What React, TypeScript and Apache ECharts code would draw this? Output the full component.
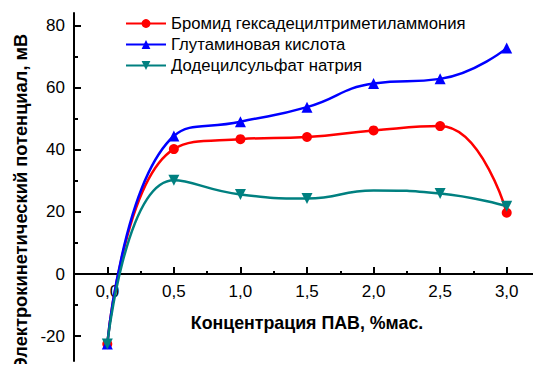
import React, { useEffect, useRef } from "react";
import * as echarts from "echarts";

const concentrations = [0, 0.5, 1.0, 1.5, 2.0, 2.5, 3.0];
const seriesNames = [
  "Бромид гексадецилтриметиламмония",
  "Глутаминовая кислота",
  "Додецилсульфат натрия",
];
const bromideValues = [-22.5, 40.2, 43.4, 44.1, 46.2, 47.6, 19.7];
const glutamicValues = [-22.5, 44.4, 49.0, 53.7, 61.3, 62.8, 72.7];
const sdsValues = [-22.5, 30.2, 25.6, 24.3, 26.9, 25.9, 21.8];
const sdsMarkerShown = [true, true, true, true, false, true, true];

const xMajorTicks = [0, 0.5, 1.0, 1.5, 2.0, 2.5, 3.0];
const xMinorTicks = [0.25, 0.75, 1.25, 1.75, 2.25, 2.75, 3.25];
const yMajorTicks = [-20, 0, 20, 40, 60, 80];
const yMinorTicks = [-10, 10, 30, 50, 70];

const xTitle = "Концентрация ПАВ, %мас.";
const yTitle = "Электрокинетический потенциал, мВ";

const FONT = "'Liberation Sans', Arial, sans-serif";

export default function App() {
  const ref = useRef<HTMLDivElement>(null);
  useEffect(() => {
    if (!ref.current) return;
    const chart = echarts.init(ref.current, undefined, { renderer: "svg" });
    const pair = (vals: number[]) => concentrations.map((x, i) => [x, vals[i]]);
    const X_MIN = -0.25;
    const X_MAX = 3.25;
    const Y_MIN = -28;
    const Y_MAX = 84;
    const H = 372;
    const top = 13;
    const bottom = 11;
    // pixel position of y = 0 inside the data grid
    const plotH = H - top - bottom;
    const zeroY = top + (plotH * Y_MAX) / (Y_MAX - Y_MIN);
    const baseGrid = { left: 74, right: 1, containLabel: false, outerBoundsMode: "none" };
    const black = () => ({ color: "#000", width: 2 });
    const hiddenX = (gridIndex: number) => ({
      type: "value", gridIndex, min: X_MIN, max: X_MAX, show: false,
    });
    const hiddenY = (gridIndex: number) => ({
      type: "value", gridIndex, min: 0, max: Y_MAX, show: false,
    });
    const yTitleGraphic = {
      id: "ytitle",
      type: "text",
      x: 20,
      y: 202,
      rotation: Math.PI / 2,
      style: {
        text: yTitle,
        fontFamily: FONT,
        fontSize: 18.3,
        fontWeight: "bold",
        fill: "#000",
        align: "center",
        verticalAlign: "middle",
      },
    };
    chart.setOption({
      animation: false,
      backgroundColor: "#ffffff",
      textStyle: { fontFamily: FONT },
      grid: [
        { ...baseGrid, top, bottom },
        { ...baseGrid, top, bottom: H - zeroY },
        { ...baseGrid, top, bottom: H - zeroY },
        { ...baseGrid, top, bottom },
      ],
      legend: {
        orient: "vertical",
        left: 125,
        top: 15,
        padding: 0,
        itemWidth: 40,
        itemHeight: 11,
        itemGap: 4,
        data: seriesNames,
        textStyle: { fontFamily: FONT, fontSize: 16.7, color: "#000" },
      },
      xAxis: [
        hiddenX(0),
        {
          type: "value",
          gridIndex: 1,
          min: X_MIN,
          max: X_MAX,
          position: "bottom",
          axisLine: { show: true, onZero: false, lineStyle: black() },
          axisTick: { show: true, inside: true, length: 7, customValues: xMajorTicks, lineStyle: black() },
          minorTick: { show: false },
          axisLabel: {
            customValues: xMajorTicks,
            formatter: (v: number) => v.toFixed(1).replace(".", ","),
            fontSize: 17,
            color: "#000",
            margin: 9,
          },
          splitLine: { show: false },
          name: xTitle,
          nameLocation: "middle",
          nameGap: 40,
          nameTextStyle: { fontSize: 17.8, fontWeight: "bold", color: "#000" },
        },
        {
          type: "value",
          gridIndex: 2,
          min: X_MIN,
          max: X_MAX,
          position: "bottom",
          axisLine: { show: false, onZero: false },
          axisTick: { show: true, inside: true, length: 3, customValues: xMinorTicks, lineStyle: black() },
          axisLabel: { show: false },
          splitLine: { show: false },
        },
        hiddenX(3),
      ],
      yAxis: [
        {
          type: "value",
          gridIndex: 0,
          min: Y_MIN,
          max: Y_MAX,
          position: "left",
          axisLine: { show: true, onZero: false, lineStyle: black() },
          axisTick: { show: true, inside: true, length: 7, customValues: yMajorTicks, lineStyle: black() },
          axisLabel: { customValues: yMajorTicks, fontSize: 17, color: "#000", margin: 9 },
          splitLine: { show: false },
        },
        hiddenY(1),
        hiddenY(2),
        {
          type: "value",
          gridIndex: 3,
          min: Y_MIN,
          max: Y_MAX,
          position: "left",
          axisLine: { show: false, onZero: false },
          axisTick: { show: true, inside: true, length: 4, customValues: yMinorTicks, lineStyle: black() },
          axisLabel: { show: false },
          splitLine: { show: false },
        },
      ],
      graphic: [yTitleGraphic],
      series: [
        {
          name: seriesNames[0],
          type: "line",
          smooth: 0.5,
          data: pair(bromideValues),
          color: "#ff0000",
          lineStyle: { width: 2.5 },
          symbol: "circle",
          symbolSize: 10,
          z: 3,
        },
        {
          name: seriesNames[1],
          type: "line",
          smooth: 0.5,
          data: pair(glutamicValues),
          color: "#0000ff",
          lineStyle: { width: 2.5 },
          symbol: "triangle",
          symbolSize: 11,
          z: 4,
        },
        {
          name: seriesNames[2],
          type: "line",
          smooth: 0.5,
          data: concentrations.map((x, i) => ({
            value: [x, sdsValues[i]],
            symbolSize: sdsMarkerShown[i] ? 11 : 0,
          })),
          color: "#008080",
          lineStyle: { width: 2.5 },
          symbol: "triangle",
          symbolRotate: 180,
          symbolSize: 11,
          z: 5,
        },
      ],
    });
    // zero axis bar, placed through the chart's own coordinate conversion
    const p0 = chart.convertToPixel({ gridIndex: 0 }, [X_MIN, 0]) as number[];
    const p1 = chart.convertToPixel({ gridIndex: 0 }, [X_MAX, 0]) as number[];
    if (p0 && p1) {
      chart.setOption({
        graphic: [
          yTitleGraphic,
          {
            id: "zeroAxis",
            type: "rect",
            z: 2,
            shape: { x: p0[0], y: p0[1] - 1, width: p1[0] - p0[0], height: 2 },
            style: { fill: "#000" },
            silent: true,
          },
        ],
      });
    }
    return () => chart.dispose();
  }, []);
  return <div ref={ref} style={{ width: 541, height: 372, margin: -8 }} />;
}
